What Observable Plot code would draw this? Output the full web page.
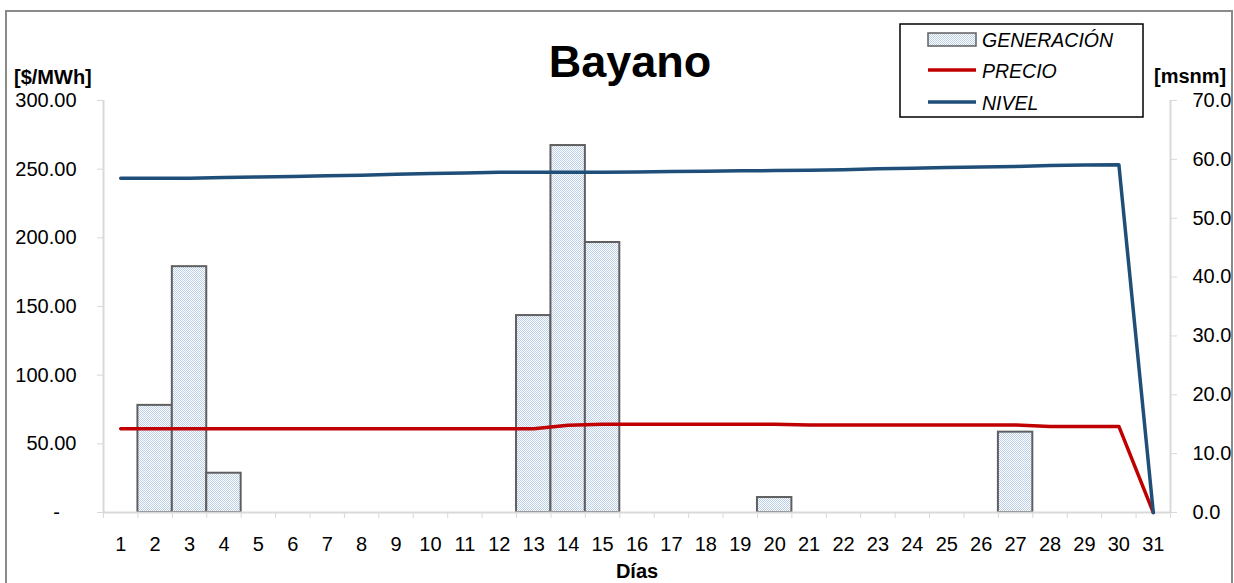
<!DOCTYPE html>
<html><head><meta charset="utf-8">
<script src="https://cdn.jsdelivr.net/npm/d3@7"></script>
<script src="https://cdn.jsdelivr.net/npm/@observablehq/plot@0.6"></script>
<style>body{margin:0;background:#fff} #chart{position:relative;width:1234px;height:583px;overflow:hidden}</style>
</head><body><div id="chart"></div>
<script>
const days = [1,2,3,4,5,6,7,8,9,10,11,12,13,14,15,16,17,18,19,20,21,22,23,24,25,26,27,28,29,30,31];
const generation = [0,78,179,28.6,0,0,0,0,0,0,0,0,143.4,267.2,196.6,0,0,0,0,10.9,0,0,0,0,0,0,58.5,0,0,0,0];
const price = [61,61,61,61,61,61,61,61,61,61,61,61,61,63.5,64.3,64.3,64.3,64.3,64.3,64.3,63.8,63.8,63.8,63.8,63.8,63.8,63.8,62.7,62.7,62.7,0];
const level = [56.8,56.8,56.8,56.9,57.0,57.1,57.2,57.3,57.45,57.6,57.7,57.8,57.8,57.8,57.8,57.85,57.95,58.0,58.05,58.1,58.15,58.25,58.4,58.5,58.6,58.7,58.8,58.95,59.05,59.1,0];
const leftTicks = [0,50,100,150,200,250,300];
const rightTicks = [0,10,20,30,40,50,60,70];
const LEFT_MAX = 300, RIGHT_MAX = 70;
const k = LEFT_MAX / RIGHT_MAX;

const rows = days.map((d,i)=>({day:d, gen:generation[i], price:price[i], level:level[i]}));
const bounds = days.map(d=>d-0.5).concat([days[days.length-1]+0.5]);
const font = "'Liberation Sans', Arial, sans-serif";
const axisGray = "#d9d9d9";

const plot = Plot.plot({
  width:1234, height:583, marginLeft:103, marginRight:64, marginTop:100, marginBottom:71,
  style:{fontFamily:font, fontSize:"20px", color:"#000", background:"#fff"},
  x:{domain:[0.5,31.5], label:null},
  y:{domain:[0,LEFT_MAX], label:null},
  marks:[
    Plot.rectY(rows.filter(r=>r.gen>0), {x1:r=>r.day-0.5, x2:r=>r.day+0.5, y1:0, y2:"gen", fill:"url(#chk)", stroke:"#5f5f5f", strokeWidth:2}),
    Plot.ruleY([0], {stroke:axisGray, strokeWidth:2}),
    Plot.ruleX([0.5], {stroke:axisGray, strokeWidth:2}),
    Plot.ruleX([31.5], {stroke:axisGray, strokeWidth:2}),
    Plot.axisY({anchor:"left", ticks:leftTicks, tickSize:6, tickPadding:21, tickFormat:v=>v===0?"-\u00a0\u00a0\u00a0":v.toFixed(2), stroke:axisGray, fill:"#000", label:null}),
    Plot.axisY({anchor:"right", ticks:rightTicks.map(v=>v*k), tickSize:6, tickPadding:16, tickFormat:v=>(v/k).toFixed(1), stroke:axisGray, fill:"#000", label:null}),
    Plot.axisX({ticks:days, tickSize:0, tickPadding:24, tickFormat:d=>String(d), fill:"#000", label:null}),
    Plot.axisX({ticks:bounds, tickSize:6, tickFormat:()=>"", stroke:axisGray, label:null}),
    Plot.line(rows, {x:"day", y:"price", stroke:"#c00000", strokeWidth:3.5}),
    Plot.line(rows, {x:"day", y:r=>r.level*k, stroke:"#1f4e79", strokeWidth:3.5})
  ]
});
document.getElementById("chart").appendChild(plot);

const svg = d3.select(plot);
const defs = svg.insert("defs", ":first-child");
const pat = defs.append("pattern").attr("id","chk").attr("width",2).attr("height",2).attr("patternUnits","userSpaceOnUse");
pat.append("rect").attr("width",2).attr("height",2).attr("fill","#ffffff");
pat.append("rect").attr("width",1).attr("height",1).attr("fill","#bccfea");
pat.append("rect").attr("x",1).attr("y",1).attr("width",1).attr("height",1).attr("fill","#bccfea");

const g = svg.append("g").attr("font-family", font).attr("text-anchor","start");
g.append("rect").attr("x",6).attr("y",11).attr("width",1226).attr("height",620).attr("fill","none").attr("stroke","#8a8a8a").attr("stroke-width",2);
g.append("text").attr("x",630).attr("y",77).attr("text-anchor","middle").attr("font-size",45).attr("font-weight","bold").text("Bayano");
g.append("text").attr("x",14).attr("y",84).attr("text-anchor","start").attr("font-size",20).attr("font-weight","bold").text("[$/MWh]");
g.append("text").attr("x",1154).attr("y",83).attr("text-anchor","start").attr("font-size",20).attr("font-weight","bold").text("[msnm]");
g.append("text").attr("x",637).attr("y",578).attr("text-anchor","middle").attr("font-size",20).attr("font-weight","bold").text("Días");

const lg = g.append("g");
lg.append("rect").attr("x",900).attr("y",24).attr("width",243).attr("height",93).attr("fill","#fff").attr("stroke","#000").attr("stroke-width",1.5);
lg.append("rect").attr("x",928).attr("y",33).attr("width",48).attr("height",13).attr("fill","url(#chk)").attr("stroke","#5f5f5f").attr("stroke-width",1.5);
lg.append("line").attr("x1",928).attr("x2",976).attr("y1",70).attr("y2",70).attr("stroke","#c00000").attr("stroke-width",3.5);
lg.append("line").attr("x1",928).attr("x2",976).attr("y1",102).attr("y2",102).attr("stroke","#1f4e79").attr("stroke-width",3.5);
[["GENERACIÓN",47],["PRECIO",78],["NIVEL",110]].forEach(([t,y])=>{
  lg.append("text").attr("x",982).attr("y",y).attr("text-anchor","start").attr("font-size",19.5).attr("font-style","italic").text(t);
});
</script>
</body></html>
